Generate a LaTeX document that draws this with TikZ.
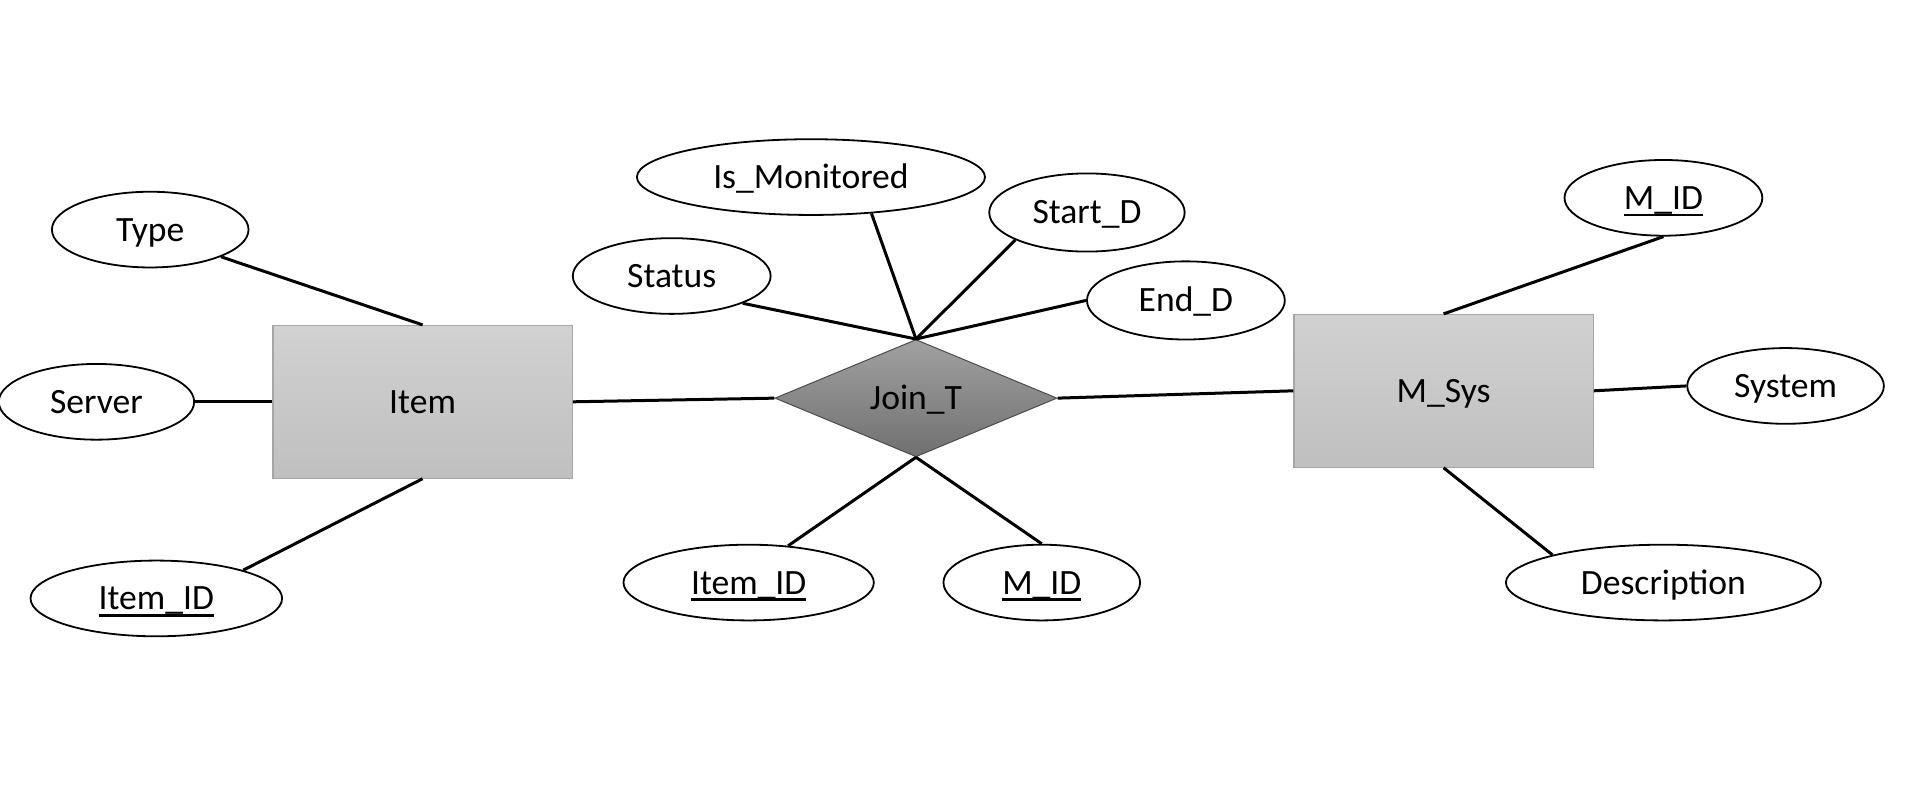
\documentclass[tikz,border=0pt]{standalone}
\usepackage{fontspec}
\setmainfont{Carlito}
\usetikzlibrary{shapes.geometric}
\def\u{0.6107pt}
\newcommand\ulin[1]{\setbox0\hbox{#1}\rlap{\rule[-0.19em]{\wd0}{0.066em}}\box0}
\tikzset{
  txt/.style={font=\fontsize{17.8}{21}\selectfont, text height=14.24pt, text depth=2.78pt},
  attr/.style={txt, ellipse, draw=black, line width=0.9pt, fill=white, inner sep=0pt,
    minimum height=62*\u},
  entity/.style={txt, rectangle, draw=black!35, line width=0.6pt, shading=axis,
    top color=black!18, bottom color=black!25, inner sep=0pt,
    minimum width=245*\u, minimum height=125*\u},
  rel/.style={txt, diamond, draw=black!70, line width=0.5pt, shading=axis,
    top color=black!37, bottom color=black!56, inner sep=0pt, aspect=2.4,
    minimum width=231*\u, minimum height=96*\u},
  link/.style={line width=1.5pt, draw=black}
}
\begin{document}
\begin{tikzpicture}[x=\u, y=-\u]
\useasboundingbox (0,0) rectangle (1568,642.8);
% entities and relationship
\node[entity] (item) at (346,329) {Item};
\node[entity] (msys) at (1182,320) {M\_Sys};
\node[rel] (join) at (750,326) {Join\_T};
% attributes
\node[attr, minimum width=161*\u] (type) at (123,188) {Type};
\node[attr, minimum width=160*\u] (server) at (79,329) {Server};
\node[attr, minimum width=206*\u] (itemid1) at (128,490) {\ulin{Item\_ID}};
\node[attr, minimum width=285*\u] (ismon) at (664,145) {Is\_Monitored};
\node[attr, minimum width=162*\u] (status) at (550,226) {Status};
\node[attr, minimum width=160*\u, minimum height=64*\u] (startd) at (890,174) {Start\_D};
\node[attr, minimum width=162*\u, minimum height=64*\u] (endd) at (971,246) {End\_D};
\node[attr, minimum width=205*\u] (itemid2) at (613,477) {\ulin{Item\_ID}};
\node[attr, minimum width=161*\u] (mid2) at (853,477) {\ulin{M\_ID}};
\node[attr, minimum width=162*\u] (mid1) at (1362,162) {\ulin{M\_ID}};
\node[attr, minimum width=161*\u] (system) at (1462,316) {System};
\node[attr, minimum width=258*\u] (desc) at (1362,477) {Description};
% connectors
\draw[link] (type.-21) -- (item.north);
\draw[link] (server.east) -- (item.west);
\draw[link] (itemid1.18) -- (item.south);
\draw[link] (item.east) -- (join.west);
\draw[link] (join.east) -- (msys.west);
\draw[link] (status.-21) -- (join.north);
\draw[link] (ismon.-31) -- (join.north);
\draw[link] (startd.201) -- (join.north);
\draw[link] (endd.west) -- (join.north);
\draw[link] (itemid2.43) -- (join.south);
\draw[link] (mid2.north) -- (join.south);
\draw[link] (mid1.south) -- (msys.north);
\draw[link] (system.west) -- (msys.east);
\draw[link] (desc.166) -- (msys.south);
\end{tikzpicture}
\end{document}
